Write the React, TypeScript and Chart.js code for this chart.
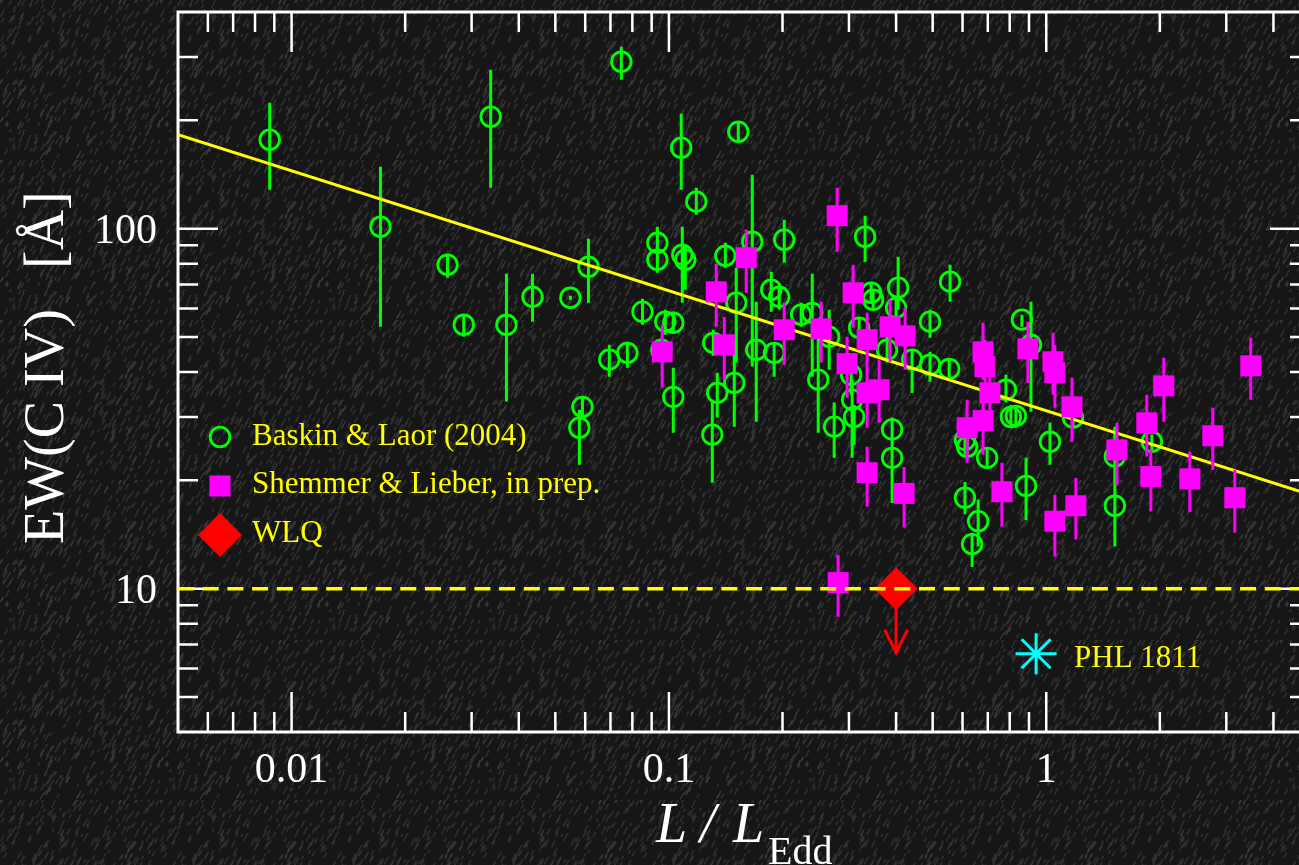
import React, { useEffect, useRef } from "react";
import { Chart, registerables } from "chart.js";

Chart.register(...registerables);

// ---- axis ranges and tick labels ----
const xRange = [0.005, 5];
const yRange = [4, 400];
const xTickLabels = [0.01, 0.1, 1];
const yTickLabels = [10, 100];

// ---- Baskin & Laor (2004): L/LEdd, EW(C IV), upper and lower error ends ----
const blX = [0.00875, 0.0172, 0.0259, 0.0286, 0.0337, 0.0371, 0.0435, 0.0548, 0.059, 0.0579, 0.0612, 0.0695, 0.0776, 0.0851, 0.0748, 0.0932, 0.0932, 0.0978, 0.1027, 0.0955, 0.1027, 0.1078, 0.1085, 0.1105, 0.1182, 0.1311, 0.1343, 0.1303, 0.1411, 0.1508, 0.149, 0.1527, 0.1663, 0.1704, 0.1867, 0.196, 0.1901, 0.2021, 0.2241, 0.2398, 0.2487, 0.2659, 0.2741, 0.304, 0.3059, 0.3097, 0.3192, 0.3311, 0.3435, 0.3477, 0.3786, 0.3904, 0.3904, 0.4, 0.405, 0.441, 0.492, 0.492, 0.553, 0.556, 0.609, 0.617, 0.697, 0.609, 0.66, 0.636, 0.782, 0.806, 0.831, 0.862, 0.911, 0.884, 1.023, 1.177, 1.52, 1.52, 1.905];
const blY = [176.7, 101.3, 79.4, 54.1, 204.7, 54.1, 64.7, 64.3, 32.0, 28.0, 78.4, 43.3, 45.2, 58.8, 290.9, 91.4, 82.0, 55.2, 54.8, 46.1, 34.1, 167.9, 84.7, 82.0, 118.9, 48.2, 35.0, 26.8, 84.1, 62.3, 37.3, 185.9, 92.0, 46.1, 67.7, 64.7, 45.2, 93.2, 57.7, 58.4, 38.1, 50.1, 28.2, 39.3, 33.5, 30.0, 53.1, 95.0, 66.4, 63.5, 46.1, 27.7, 23.1, 60.3, 68.6, 43.3, 55.2, 41.9, 40.8, 71.3, 25.9, 24.8, 23.1, 17.9, 15.4, 13.3, 35.7, 30.0, 30.2, 55.9, 47.6, 19.3, 25.6, 29.9, 23.3, 17.0, 25.6];
const blHi = [223.9, 148.7, 84.7, 57.7, 276.4, 75.0, 75.0, 65.1, 34.1, 31.4, 93.8, 47.6, 48.5, 63.9, 320.3, 101.3, 90.3, 59.6, 58.8, 49.2, 41.1, 208.6, 101.3, 90.3, 130.0, 52.4, 39.8, 33.5, 91.4, 77.9, 49.2, 198.3, 141.3, 62.7, 76.0, 69.9, 48.2, 105.9, 62.3, 75.0, 49.2, 59.6, 32.9, 44.7, 38.1, 32.4, 56.6, 108.7, 71.3, 67.7, 51.4, 29.9, 25.9, 64.3, 83.6, 46.1, 59.6, 45.5, 43.3, 79.4, 28.5, 26.8, 24.6, 19.8, 17.7, 14.3, 39.3, 32.4, 32.4, 57.7, 62.7, 23.1, 28.9, 31.8, 28.2, 19.8, 26.8];
const blLo = [128.4, 53.4, 73.1, 50.1, 130.0, 33.1, 55.2, 63.5, 29.5, 22.1, 62.3, 38.8, 41.1, 54.1, 259.4, 83.1, 75.5, 50.8, 51.1, 43.3, 27.1, 128.4, 62.3, 67.7, 109.4, 44.4, 29.9, 19.7, 77.9, 42.5, 28.2, 174.4, 41.4, 29.1, 58.8, 59.6, 38.8, 80.4, 53.4, 38.8, 27.1, 40.6, 23.1, 34.6, 23.1, 25.1, 49.8, 81.0, 61.9, 59.6, 42.5, 25.1, 17.3, 56.6, 59.6, 35.0, 49.8, 37.6, 38.6, 62.7, 23.6, 22.8, 21.7, 16.1, 13.1, 11.5, 32.9, 28.0, 28.0, 53.4, 31.0, 15.5, 22.1, 28.0, 19.7, 13.1, 24.3];

// ---- Shemmer & Lieber, in prep. ----
const slX = [0.096, 0.1335, 0.1603, 0.1402, 0.2021, 0.2532, 0.2792, 0.3078, 0.3857, 0.4226, 0.3352, 0.2966, 0.3352, 0.3607, 0.3352, 0.42, 0.2808, 0.68, 0.688, 0.709, 0.68, 0.617, 0.763, 0.894, 1.042, 1.054, 1.17, 1.054, 1.198, 1.539, 1.847, 2.049, 1.893, 2.402, 2.763, 3.16, 3.483];
const slY = [45.5, 66.8, 83.1, 47.6, 52.4, 52.7, 108.7, 66.4, 53.4, 50.4, 49.2, 42.2, 35.0, 35.7, 21.0, 18.4, 10.4, 45.5, 41.4, 35.0, 29.3, 28.0, 18.6, 46.4, 42.7, 39.8, 32.0, 15.4, 17.0, 24.3, 28.9, 36.6, 20.5, 20.2, 26.6, 17.9, 41.6];
const slHi = [54.1, 79.9, 99.4, 56.9, 62.3, 62.7, 130.0, 79.4, 63.5, 60.3, 58.4, 50.1, 41.4, 43.3, 24.8, 21.8, 12.4, 54.8, 49.2, 41.9, 34.6, 33.5, 22.4, 55.2, 51.4, 47.6, 38.6, 18.2, 20.3, 28.9, 34.6, 43.8, 24.3, 24.0, 31.8, 21.4, 49.8];
const slLo = [36.2, 53.4, 66.4, 38.1, 41.9, 42.5, 86.3, 53.1, 42.7, 40.6, 38.8, 33.9, 28.0, 28.9, 16.9, 14.8, 8.36, 38.1, 34.6, 28.9, 23.6, 22.4, 14.9, 37.3, 34.6, 31.8, 25.6, 12.3, 13.7, 19.4, 23.3, 29.1, 16.4, 16.3, 21.4, 14.3, 33.5];

// ---- WLQ (upper limit) and PHL 1811 ----
const wlqX = [0.4];
const wlqY = [10];
const wlqArrowTo = [6.64];
const phlX = [0.94];
const phlY = [6.6];

// ---- best-fit line and EW threshold ----
const fitX = [0.005, 5];
const fitY = [182.5, 18.25];
const thresholdY = [10, 10];

const GREEN = "#00ff00";
const MAGENTA = "#ff00ff";
const YELLOW = "#ffff00";
const RED = "#ff0000";
const CYAN = "#00ffff";
const SERIF = '"Liberation Serif", "DejaVu Serif", serif';

const pts = (xs: number[], ys: number[]) => xs.map((x, i) => ({ x, y: ys[i] }));

const drawBars = (chart: any, xs: number[], lo: number[], hi: number[], color: string) => {
  const { ctx, chartArea: a } = chart;
  const sx = chart.scales.x;
  const sy = chart.scales.y;
  ctx.save();
  ctx.beginPath();
  ctx.rect(a.left, a.top, a.right - a.left, a.bottom - a.top);
  ctx.clip();
  ctx.strokeStyle = color;
  ctx.lineWidth = 3;
  ctx.beginPath();
  xs.forEach((x, i) => {
    const px = sx.getPixelForValue(x);
    ctx.moveTo(px, sy.getPixelForValue(hi[i]));
    ctx.lineTo(px, sy.getPixelForValue(lo[i]));
  });
  ctx.stroke();
  ctx.restore();
};

// deterministic texture for the dark background
const makeTexture = () => {
  const c = document.createElement("canvas");
  c.width = 160;
  c.height = 160;
  const g = c.getContext("2d") as CanvasRenderingContext2D;
  g.fillStyle = "#161616";
  g.fillRect(0, 0, 160, 160);
  g.strokeStyle = "rgba(70,70,70,0.55)";
  g.lineWidth = 1.6;
  g.lineCap = "round";
  let s = 12345;
  const h = () => {
    s = (s * 1103515245 + 12345) & 0x7fffffff;
    return s / 0x7fffffff;
  };
  for (let i = 0; i < 520; i++) {
    const x = h() * 160;
    const y = h() * 160;
    const L = 2 + h() * 5;
    g.beginPath();
    g.moveTo(x, y);
    g.lineTo(x + L * 0.55, y - L);
    g.stroke();
  }
  return c;
};

const decorPlugin = {
  id: "decor",
  beforeDraw(chart: any) {
    const { ctx } = chart;
    ctx.save();
    const pat = ctx.createPattern(makeTexture(), "repeat");
    ctx.fillStyle = pat || "#1b1b1b";
    ctx.fillRect(0, 0, chart.width, chart.height);
    ctx.restore();
  },
  beforeDatasetsDraw(chart: any) {
    const { ctx, chartArea: a } = chart;
    const sx = chart.scales.x;
    const sy = chart.scales.y;
    ctx.save();
    ctx.strokeStyle = "#ffffff";
    ctx.lineWidth = 2.5;
    ctx.beginPath();
    for (let k = -3; k <= 1; k++) {
      for (let m = 1; m <= 9; m++) {
        const v = m * Math.pow(10, k);
        if (v <= xRange[0] * 1.001 || v >= xRange[1] * 0.999) continue;
        const px = sx.getPixelForValue(v);
        const len = m === 1 ? 40 : 20;
        ctx.moveTo(px, a.bottom);
        ctx.lineTo(px, a.bottom - len);
        ctx.moveTo(px, a.top);
        ctx.lineTo(px, a.top + len);
      }
    }
    for (let k = 0; k <= 2; k++) {
      for (let m = 1; m <= 9; m++) {
        const v = m * Math.pow(10, k);
        if (v <= yRange[0] * 1.001 || v >= yRange[1] * 0.999) continue;
        const py = sy.getPixelForValue(v);
        const len = m === 1 ? 40 : 20;
        ctx.moveTo(a.left, py);
        ctx.lineTo(a.left + len, py);
        ctx.moveTo(a.right, py);
        ctx.lineTo(a.right - len, py);
      }
    }
    ctx.stroke();
    ctx.lineWidth = 3;
    ctx.strokeRect(a.left, a.top, a.right - a.left, a.bottom - a.top);
    ctx.restore();
  },
  beforeDatasetDraw(chart: any, args: any) {
    const ds = chart.data.datasets[args.index];
    if (ds.label === "Baskin & Laor (2004)") drawBars(chart, blX, blLo, blHi, GREEN);
    if (ds.label === "Shemmer & Lieber, in prep.") drawBars(chart, slX, slLo, slHi, MAGENTA);
    if (ds.label === "WLQ") {
      const { ctx } = chart;
      const sx = chart.scales.x;
      const sy = chart.scales.y;
      ctx.save();
      ctx.strokeStyle = RED;
      ctx.lineWidth = 3;
      wlqX.forEach((x, i) => {
        const px = sx.getPixelForValue(x);
        const y0 = sy.getPixelForValue(wlqY[i]);
        const y1 = sy.getPixelForValue(wlqArrowTo[i]);
        ctx.beginPath();
        ctx.moveTo(px, y0);
        ctx.lineTo(px, y1);
        ctx.moveTo(px - 11.5, y1 - 23);
        ctx.lineTo(px, y1);
        ctx.lineTo(px + 11.5, y1 - 23);
        ctx.stroke();
      });
      ctx.restore();
    }
  },
  afterDraw(chart: any) {
    const { ctx, chartArea: a } = chart;
    const sx = chart.scales.x;
    const sy = chart.scales.y;
    ctx.save();
    // tick labels
    ctx.fillStyle = "#ffffff";
    ctx.font = `42px ${SERIF}`;
    ctx.textBaseline = "alphabetic";
    ctx.textAlign = "center";
    xTickLabels.forEach((v) => {
      ctx.fillText(String(v), sx.getPixelForValue(v), a.bottom + 50);
    });
    ctx.textAlign = "right";
    yTickLabels.forEach((v) => {
      ctx.fillText(String(v), a.left - 21, sy.getPixelForValue(v) + 14);
    });
    // x title
    ctx.textAlign = "left";
    ctx.font = `italic 56px ${SERIF}`;
    ctx.fillText("L", 656, 842);
    ctx.fillText("/", 700, 842);
    ctx.fillText("L", 733, 842);
    ctx.font = `40px ${SERIF}`;
    ctx.fillText("Edd", 768, 864);
    // y title
    ctx.save();
    ctx.translate(63, 544);
    ctx.rotate(-Math.PI / 2);
    ctx.font = `56px ${SERIF}`;
    ctx.fillText("EW(C IV)", 0, 0);
    ctx.fillText("[Å]", 275, 0);
    ctx.restore();
    // legend
    ctx.font = `31px ${SERIF}`;
    ctx.fillStyle = YELLOW;
    ctx.fillText("Baskin & Laor (2004)", 252, 445);
    ctx.fillText("Shemmer & Lieber, in prep.", 252, 493);
    ctx.fillText("WLQ", 252, 542);
    ctx.strokeStyle = GREEN;
    ctx.lineWidth = 2.8;
    ctx.beginPath();
    ctx.arc(220, 437, 9.8, 0, Math.PI * 2);
    ctx.stroke();
    ctx.fillStyle = MAGENTA;
    ctx.fillRect(209.5, 475.5, 21, 21);
    ctx.fillStyle = RED;
    ctx.beginPath();
    ctx.moveTo(220, 513);
    ctx.lineTo(242, 535);
    ctx.lineTo(220, 557);
    ctx.lineTo(198, 535);
    ctx.closePath();
    ctx.fill();
    // PHL 1811 label
    ctx.fillStyle = YELLOW;
    ctx.font = `31px ${SERIF}`;
    ctx.fillText("PHL 1811", 1074, 667);
    ctx.restore();
  },
};

export default function App() {
  const ref = useRef<HTMLCanvasElement | null>(null);
  useEffect(() => {
    if (!ref.current) return;
    const chart = new Chart(ref.current, {
      type: "scatter",
      data: {
        datasets: [
          {
            label: "Baskin & Laor (2004)",
            data: pts(blX, blY),
            pointStyle: "circle",
            pointRadius: 9.8,
            pointBorderWidth: 2.8,
            pointBorderColor: GREEN,
            pointBackgroundColor: "rgba(0,0,0,0)",
            order: 6,
          },
          {
            label: "fit",
            type: "line",
            data: pts(fitX, fitY),
            borderColor: YELLOW,
            borderWidth: 3,
            pointRadius: 0,
            fill: false,
            order: 5,
          },
          {
            label: "Shemmer & Lieber, in prep.",
            data: pts(slX, slY),
            pointStyle: "rect",
            pointRadius: 14.85,
            pointBorderWidth: 0,
            pointBackgroundColor: MAGENTA,
            order: 4,
          },
          {
            label: "WLQ",
            data: pts(wlqX, wlqY),
            pointStyle: "rectRot",
            pointRadius: 21.5,
            pointBorderWidth: 0,
            pointBackgroundColor: RED,
            order: 3,
          },
          {
            label: "PHL 1811",
            data: pts(phlX, phlY),
            pointStyle: "star",
            pointRadius: 20.5,
            pointBorderWidth: 3,
            pointBorderColor: CYAN,
            order: 2,
          },
          {
            label: "threshold",
            type: "line",
            data: pts(xRange, thresholdY),
            borderColor: YELLOW,
            borderWidth: 3.5,
            borderDash: [16, 8.7],
            pointRadius: 0,
            fill: false,
            order: 1,
          },
        ],
      } as any,
      options: {
        animation: false,
        responsive: false,
        events: [],
        layout: { autoPadding: false, padding: { top: 12, right: 10, left: 0, bottom: 0 } },
        plugins: { legend: { display: false }, tooltip: { enabled: false } },
        scales: {
          x: {
            type: "logarithmic",
            min: xRange[0],
            max: xRange[1],
            grid: { display: false, drawTicks: false },
            border: { display: false },
            ticks: { display: false },
            afterFit: (s: any) => {
              s.height = 133;
            },
          },
          y: {
            type: "logarithmic",
            min: yRange[0],
            max: yRange[1],
            grid: { display: false, drawTicks: false },
            border: { display: false },
            ticks: { display: false },
            afterFit: (s: any) => {
              s.width = 178;
            },
          },
        },
      } as any,
      plugins: [decorPlugin],
    });
    return () => chart.destroy();
  }, []);
  return (
    <div style={{ position: "fixed", left: 0, top: 0, width: "100vw", height: "100vh", overflow: "hidden", background: "#1b1b1b" }}>
      <canvas ref={ref} width={1320} height={865} style={{ display: "block", width: 1320, height: 865 }} />
    </div>
  );
}
